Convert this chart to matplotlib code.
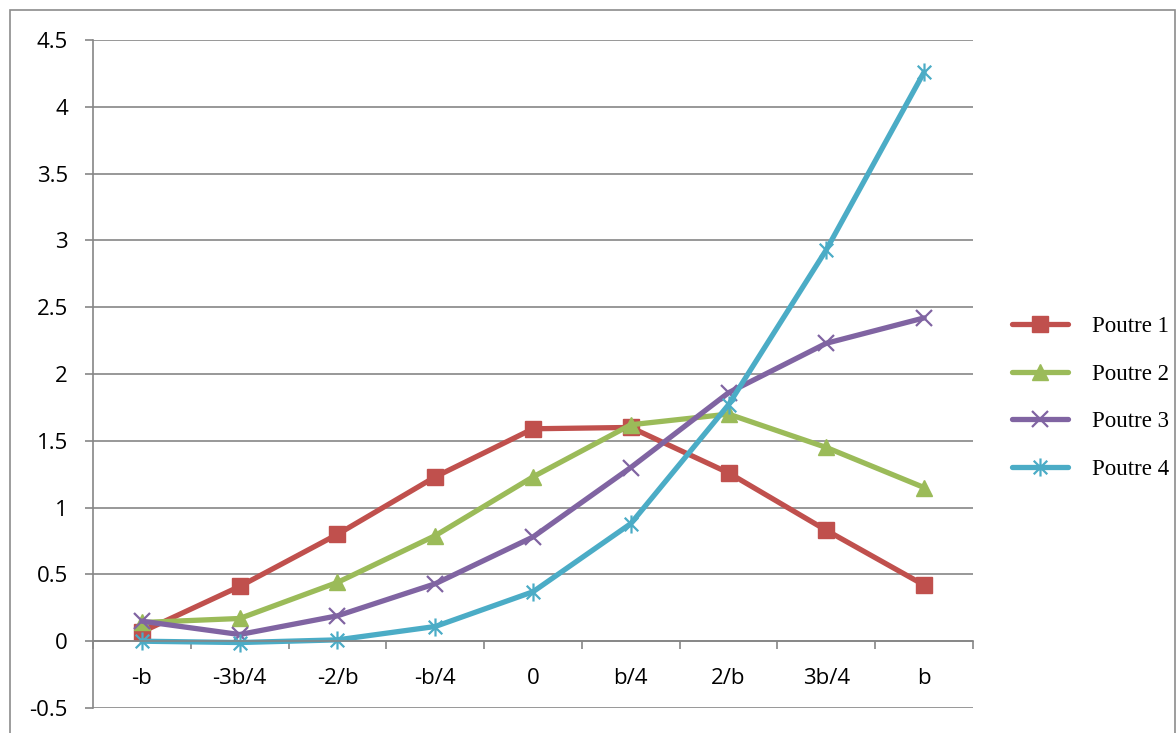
import matplotlib
matplotlib.use("Agg")
import matplotlib.pyplot as plt
from matplotlib.path import Path
from matplotlib.patches import Rectangle

# --- data ---
categories = ["-b", "-3b/4", "-2/b", "-b/4", "0", "b/4", "2/b", "3b/4", "b"]
poutre_1 = [0.07, 0.41, 0.80, 1.23, 1.59, 1.60, 1.26, 0.83, 0.42]
poutre_2 = [0.14, 0.17, 0.44, 0.79, 1.23, 1.62, 1.70, 1.45, 1.15]
poutre_3 = [0.15, 0.05, 0.19, 0.43, 0.78, 1.30, 1.86, 2.23, 2.42]
poutre_4 = [0.00, -0.01, 0.01, 0.11, 0.37, 0.88, 1.77, 2.93, 4.26]
series_names = ["Poutre 1", "Poutre 2", "Poutre 3", "Poutre 4"]
y_ticks = [-0.5, 0, 0.5, 1, 1.5, 2, 2.5, 3, 3.5, 4, 4.5]
y_tick_labels = ["-0.5", "0", "0.5", "1", "1.5", "2", "2.5", "3", "3.5", "4", "4.5"]

plt.rcParams["font.family"] = ["Open Sans", "DejaVu Sans"]
plt.rcParams["axes.unicode_minus"] = False

# Excel style star: x plus a vertical bar
star = Path([(0, -1), (0, 1), (-0.75, -0.75), (0.75, 0.75), (-0.75, 0.75), (0.75, -0.75)],
            [Path.MOVETO, Path.LINETO, Path.MOVETO, Path.LINETO, Path.MOVETO, Path.LINETO])

styles = [
    dict(color="#C0504D", marker="s", markersize=11),
    dict(color="#9BBB59", marker="^", markersize=12),
    dict(color="#8064A2", marker="x", markersize=11, markeredgewidth=1.6),
    dict(color="#4BACC6", marker=star, markersize=13, markeredgewidth=1.6),
]

GRID = "#868686"

fig = plt.figure(figsize=(11.76, 7.33), dpi=100)
fig.patches.append(Rectangle((10 / 1176, -0.05), 1165 / 1176, 1.05 - 10 / 733,
                             transform=fig.transFigure, fill=False,
                             edgecolor="#8C8C8C", lw=1.2))

ax = fig.add_axes([93 / 1176, 1 - 708 / 733, 880 / 1176, 668 / 733])
x = [i + 0.5 for i in range(len(categories))]

for name, vals, st in zip(series_names, [poutre_1, poutre_2, poutre_3, poutre_4], styles):
    ax.plot(x, vals, lw=3.8, solid_capstyle="round", label=name, **st)

ax.set_xlim(0, len(categories))
ax.set_ylim(-0.5, 4.5)

ax.grid(True, axis="y", color=GRID, lw=1.2, zorder=0)
ax.set_axisbelow(True)
for s in ["top", "right"]:
    ax.spines[s].set_visible(False)
ax.spines["left"].set_color(GRID)
ax.spines["left"].set_linewidth(1.2)
ax.spines["bottom"].set_position(("data", 0))
ax.spines["bottom"].set_color(GRID)
ax.spines["bottom"].set_linewidth(1.2)
ax.tick_params(axis="y", length=6, width=1.2, color=GRID, pad=12, labelsize=16)
ax.tick_params(axis="x", which="major", length=0, pad=19, labelsize=16)
ax.tick_params(axis="x", which="minor", length=5.5, width=1.2, color=GRID)

ax.set_yticks(y_ticks)
ax.set_yticklabels(y_tick_labels)
ax.set_xticks(x)
ax.set_xticklabels(categories)
ax.set_xticks(range(len(categories) + 1), minor=True)

leg = ax.legend(loc="center left", bbox_to_anchor=(1012 / 1176, 1 - 398 / 733),
                bbox_transform=fig.transFigure, frameon=False, borderpad=0,
                borderaxespad=0, handlelength=2.45, handletextpad=1.05,
                labelspacing=1.15, prop=dict(family="Liberation Serif", size=16.5))

fig.savefig("out.png", dpi=100)
